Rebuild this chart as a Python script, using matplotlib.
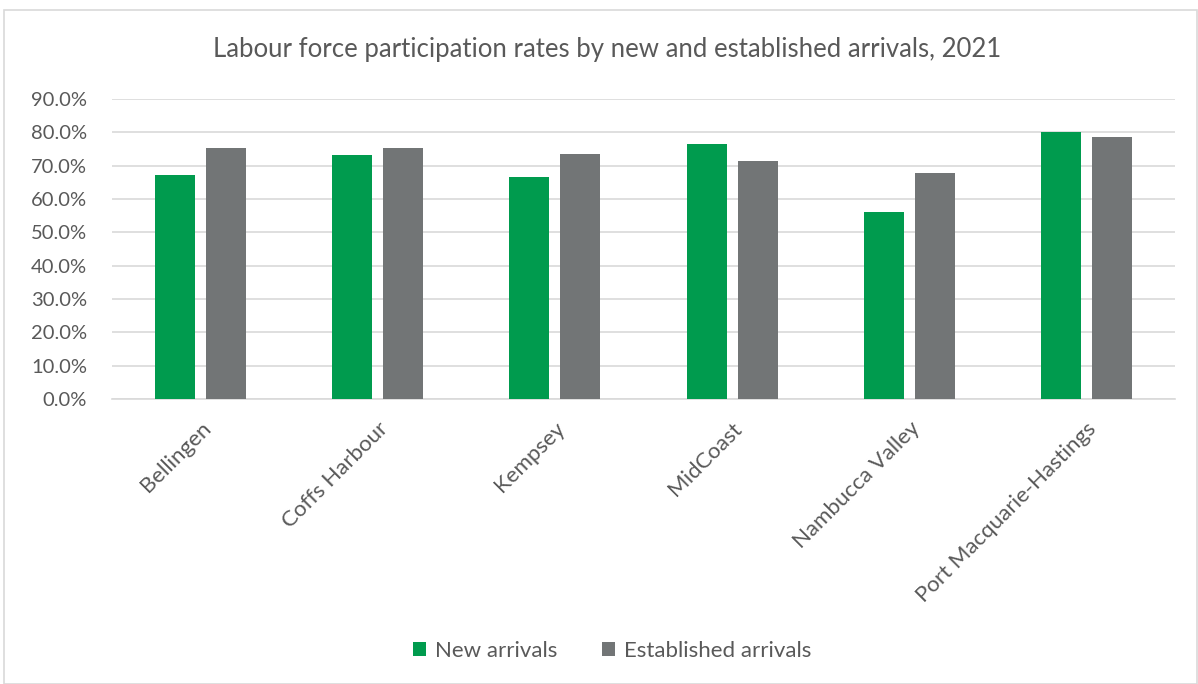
import numpy as np
import matplotlib.pyplot as plt
from matplotlib.patches import Rectangle
from matplotlib.ticker import FuncFormatter

plt.rcParams['font.family'] = ['Lato', 'DejaVu Sans']

# data
regions = ['Bellingen', 'Coffs Harbour', 'Kempsey', 'MidCoast', 'Nambucca Valley',
           'Port Macquarie-Hastings']
new_arrivals = [67.3, 73.2, 66.7, 76.4, 56.2, 80.0]
established = [75.2, 75.2, 73.4, 71.3, 67.8, 78.7]

green = '#009B4E'
grey = '#727576'
txt = '#595959'

fig = plt.figure(figsize=(11.98, 6.84), dpi=100)
# outer chart border
fig.patches.append(Rectangle((4 / 1198, 0), 1193 / 1198, 674 / 684, transform=fig.transFigure,
                             fill=False, edgecolor='#d9d9d9', linewidth=1.2))

ax = fig.add_axes([112 / 1198, 1 - 399 / 684, (1175 - 112) / 1198, 300 / 684])
x = np.arange(len(regions))
w = 0.225
ax.bar(x - 0.144, new_arrivals, w, color=green, label='New arrivals', zorder=3)
ax.bar(x + 0.144, established, w, color=grey, label='Established arrivals', zorder=3)

ax.set_xlim(-0.5, len(regions) - 0.5)
ax.set_ylim(0, 90)
ax.set_yticks(np.arange(0, 91, 10))
ax.yaxis.set_major_formatter(FuncFormatter(lambda v, p: f'{v:.1f}%'))
ax.grid(axis='y', color='#d9d9d9', linewidth=1.2, zorder=0)
for s in ['top', 'right', 'left']:
    ax.spines[s].set_visible(False)
ax.spines['bottom'].set_color('#d9d9d9')
ax.spines['bottom'].set_linewidth(1.2)
ax.tick_params(axis='both', length=0, colors=txt)
ax.tick_params(axis='y', pad=18, labelsize=14.5)
ax.set_xticks(x)
ax.set_xticklabels(regions, rotation=45, ha='right', rotation_mode='anchor')
ax.tick_params(axis='x', pad=14, labelsize=16)

fig.text(607 / 1198, 1 - 50 / 684, 'Labour force participation rates by new and established arrivals, 2021',
         ha='center', va='center', fontsize=18.5, color=txt)

fig.legend(loc='center', bbox_to_anchor=(612 / 1198, 1 - 651 / 684), ncol=2, frameon=False,
           fontsize=16, labelcolor=txt, handlelength=0.6, handleheight=0.6,
           handletextpad=0.4, columnspacing=2.0)

fig.savefig('out.png', dpi=100)
